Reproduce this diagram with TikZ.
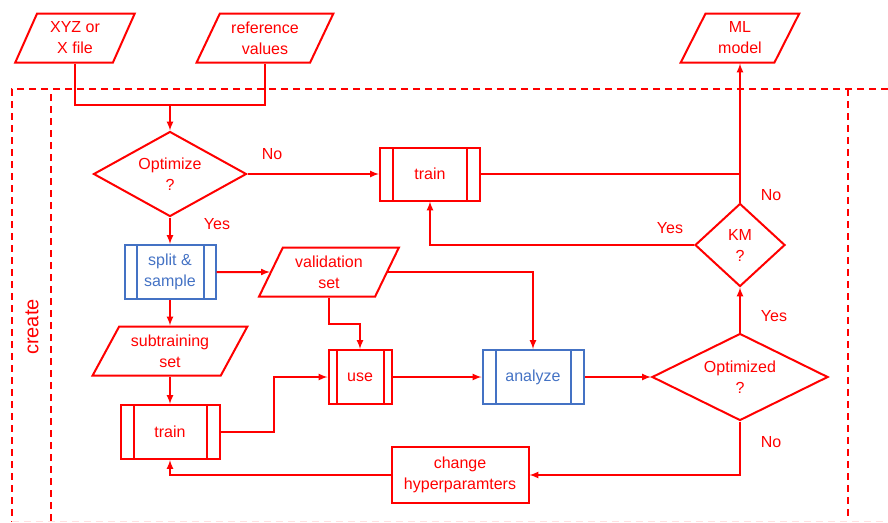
\documentclass[tikz,border=0pt]{standalone}
\usepackage{fontspec}
\setmainfont{Liberation Sans}
\usetikzlibrary{arrows,shapes.geometric}
\definecolor{procblue}{RGB}{68,114,196}

\begin{document}
\begin{tikzpicture}[x=1pt,y=-1pt,line width=2pt,red,
  every node/.style={font=\fontsize{16}{21}\selectfont,align=center},
  io/.style={draw,trapezium,trapezium stretches=true,inner sep=0pt,minimum height=49},
  dec/.style={draw,diamond,inner sep=0pt,aspect=#1},
  proc/.style={draw,rectangle,minimum height=54,path picture={
    \draw ([xshift=#1]path picture bounding box.north west)--([xshift=#1]path picture bounding box.south west)
          ([xshift=-#1]path picture bounding box.north east)--([xshift=-#1]path picture bounding box.south east);}},
  frame/.style={dash pattern=on 7pt off 5pt}]
\useasboundingbox (0,0) rectangle (888,522);

% swim lane
\draw[frame] (888,89)--(12,89)--(12,522);
\draw[frame] (51,94)--(51,522);
\draw[frame] (848,89)--(848,516);
\draw[red!12,line width=1pt,dash pattern=on 7pt off 5pt] (12,521)--(888,521);
\node[rotate=90,font=\fontsize{20}{22}\selectfont] (lane) at (32,327) {create};

% nodes
\node[io,trapezium left angle=66,trapezium right angle=114,minimum width=120] (xyz) at (75,38) {XYZ or\\X file};
\node[io,trapezium left angle=62,trapezium right angle=118,minimum width=137] (ref) at (265,38) {reference\\values};
\node[io,trapezium left angle=64,trapezium right angle=116,minimum width=119] (ml) at (740,38) {ML\\model};
\node[dec=1.8,minimum width=153,minimum height=85] (opt) at (170,174) {Optimize\\?};
\node[proc=13,minimum width=100,minimum height=53] (trainA) at (430,174) {train};
\node[dec=1.08,minimum width=90,minimum height=83] (km) at (740,245) {KM\\?};
\node[proc=12,color=procblue,minimum width=91] (split) at (170,272) {split \&\\sample};
\node[io,trapezium left angle=62,trapezium right angle=118,minimum width=140] (val) at (329,272) {validation\\set};
\node[io,trapezium left angle=58,trapezium right angle=122,minimum width=155] (sub) at (170,351) {subtraining\\set};
\node[proc=13,minimum width=99] (trainB) at (170,432) {train};
\node[proc=8,minimum width=63] (use) at (360,377) {use};
\node[proc=13,color=procblue,minimum width=101] (ana) at (533,377) {analyze};
\node[dec=2.02,minimum width=176,minimum height=87] (optd) at (740,377) {Optimized\\?};
\node[draw,minimum width=137,minimum height=56] (chg) at (460,475) {change\\hyperparamters};

% labels
\node (noA) at (272,154) {No};
\node (yesA) at (217,224) {Yes};
\node (noB) at (771,195) {No};
\node (yesB) at (670,228) {Yes};
\node (yesC) at (774,316) {Yes};
\node (noC) at (771,442) {No};

% connectors
\coordinate (merge) at (170,105);
\draw (xyz.center |- xyz.south)|-(merge)-|(ref.center |- ref.south);
\draw[-latex] (merge)--(opt.north);
\draw[-latex] (opt.east)--(trainA.west);
\draw (trainA.east)--(trainA.east -| km.north);
\draw[-latex] (km.north)--(ml.center |- ml.south);
\draw[-latex] (km.west)-|(trainA.south);
\draw[-latex] (opt.south)--(split.north);
\draw[-latex] (split.east)--(val);
\draw[-latex] (val)-|(ana.north);
\draw[-latex] (val.center |- val.south)--++(0,26.5)-|(use.north);
\draw[-latex] (split.south)--(sub);
\draw[-latex] (sub.center |- sub.south)--(trainB.north);
\draw[-latex] (trainB.east)--++(53.5,0)|-(use.west);
\draw[-latex] (use.east)--(ana.west);
\draw[-latex] (ana.east)--(optd.west);
\draw[-latex] (optd.north)--(km.south);
\draw[-latex] (optd.south)|-(chg.east);
\draw[-latex] (chg.west)-|(trainB.south);
\end{tikzpicture}
\end{document}
